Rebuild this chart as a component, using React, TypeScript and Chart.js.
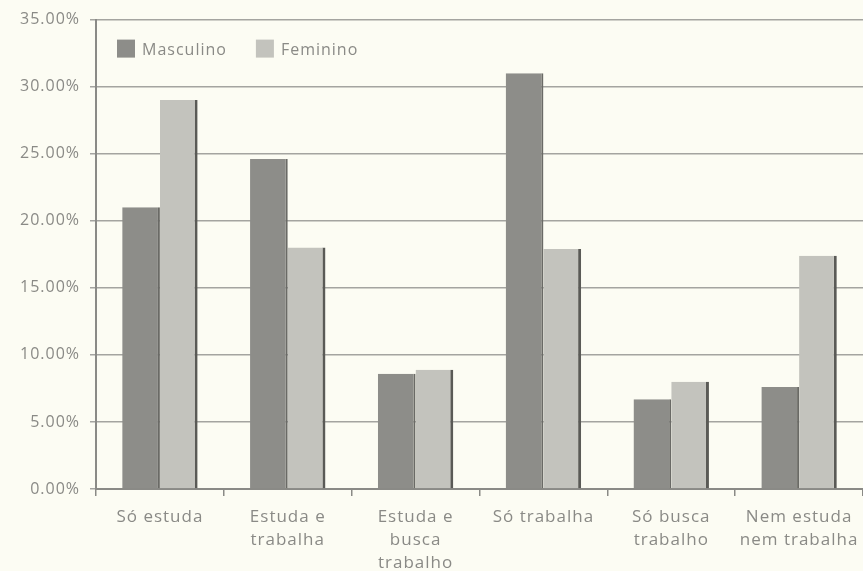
import React, { useEffect, useRef } from 'react';
import { Chart, registerables } from 'chart.js';

Chart.register(...registerables);

const categories: string[][] = [
  ['Só estuda'],
  ['Estuda e', 'trabalha'],
  ['Estuda e', 'busca', 'trabalho'],
  ['Só trabalha'],
  ['Só busca', 'trabalho'],
  ['Nem estuda', 'nem trabalha'],
];
const seriesNames = ['Masculino', 'Feminino'];
const masculino = [21.0, 24.6, 8.6, 31.0, 6.7, 7.6];
const feminino = [29.0, 18.0, 8.9, 17.9, 8.0, 17.4];
const yMin = 0;
const yMax = 35;
const yStep = 5;

const FONT = "'Open Sans', 'DejaVu Sans', sans-serif";
const TEXT = '#8a8a86';

const spacingPlugin = {
  id: 'letterSpacing',
  beforeLayout(chart: any) {
    chart.ctx.letterSpacing = '1px';
  },
  beforeDraw(chart: any) {
    chart.ctx.letterSpacing = '1px';
  },
};

const insideLegend = {
  id: 'insideLegend',
  afterDraw(chart: any) {
    const { ctx, chartArea } = chart;
    ctx.save();
    ctx.font = `16px ${FONT}`;
    ctx.letterSpacing = '1px';
    ctx.textBaseline = 'middle';
    ctx.textAlign = 'left';
    let x = chartArea.left + 21;
    const y = chartArea.top + 20;
    chart.data.datasets.forEach((ds: any) => {
      ctx.fillStyle = ds.backgroundColor;
      ctx.fillRect(x, y, 18, 18);
      ctx.fillStyle = TEXT;
      ctx.fillText(ds.label, x + 25, y + 11);
      x += 25 + ctx.measureText(ds.label).width + 29;
    });
    ctx.restore();
  },
};

export default function App() {
  const ref = useRef<HTMLCanvasElement | null>(null);

  useEffect(() => {
    if (!ref.current) return;
    const chart = new Chart(ref.current, {
      type: 'bar',
      data: {
        labels: categories,
        datasets: [
          {
            label: seriesNames[0],
            data: masculino,
            backgroundColor: '#8d8d89',
            borderColor: '#6a6a66',
            borderWidth: { top: 0, right: 2, bottom: 0, left: 0 },
            borderSkipped: false,
          },
          {
            label: seriesNames[1],
            data: feminino,
            backgroundColor: '#c3c3bd',
            borderColor: '#5a5a56',
            borderWidth: { top: 0, right: 3, bottom: 0, left: 0 },
            borderSkipped: false,
          },
        ],
      },
      options: {
        animation: false,
        responsive: true,
        maintainAspectRatio: false,
        layout: { padding: { top: 19, left: 0, right: 0, bottom: 0 } },
        datasets: {
          bar: { categoryPercentage: 0.59, barPercentage: 1.0 },
        },
        plugins: {
          tooltip: { enabled: false },
          legend: { display: false },
        },
        scales: {
          x: {
            afterFit: (s: any) => {
              s.height = 82;
              s.paddingLeft = 0;
              s.paddingRight = 0;
            },
            grid: {
              offset: true,
              drawOnChartArea: false,
              drawTicks: true,
              tickLength: 7,
              color: '#8a8a86',
              lineWidth: 1.5,
            },
            border: { color: '#8a8a86', width: 2 },
            ticks: {
              color: TEXT,
              padding: 10,
              maxRotation: 0,
              autoSkip: false,
              font: { family: FONT, size: 17, lineHeight: 1.35 },
            },
          },
          y: {
            min: yMin,
            max: yMax,
            afterFit: (s: any) => {
              s.width = 96;
            },
            grid: {
              color: '#a4a4a0',
              lineWidth: 1.5,
              tickLength: 6,
              drawTicks: true,
            },
            border: { color: '#8a8a86', width: 2 },
            ticks: {
              stepSize: yStep,
              color: TEXT,
              padding: 10,
              font: { family: FONT, size: 16 },
              callback: (v: any) => Number(v).toFixed(2) + '%',
            },
          },
        },
      },
      plugins: [spacingPlugin, insideLegend],
    } as any);
    return () => chart.destroy();
  }, []);

  return (
    <div
      style={{
        position: 'fixed',
        left: 0,
        top: 0,
        width: 863,
        height: 571,
        background: '#fcfcf3',
      }}
    >
      <canvas ref={ref} />
    </div>
  );
}
